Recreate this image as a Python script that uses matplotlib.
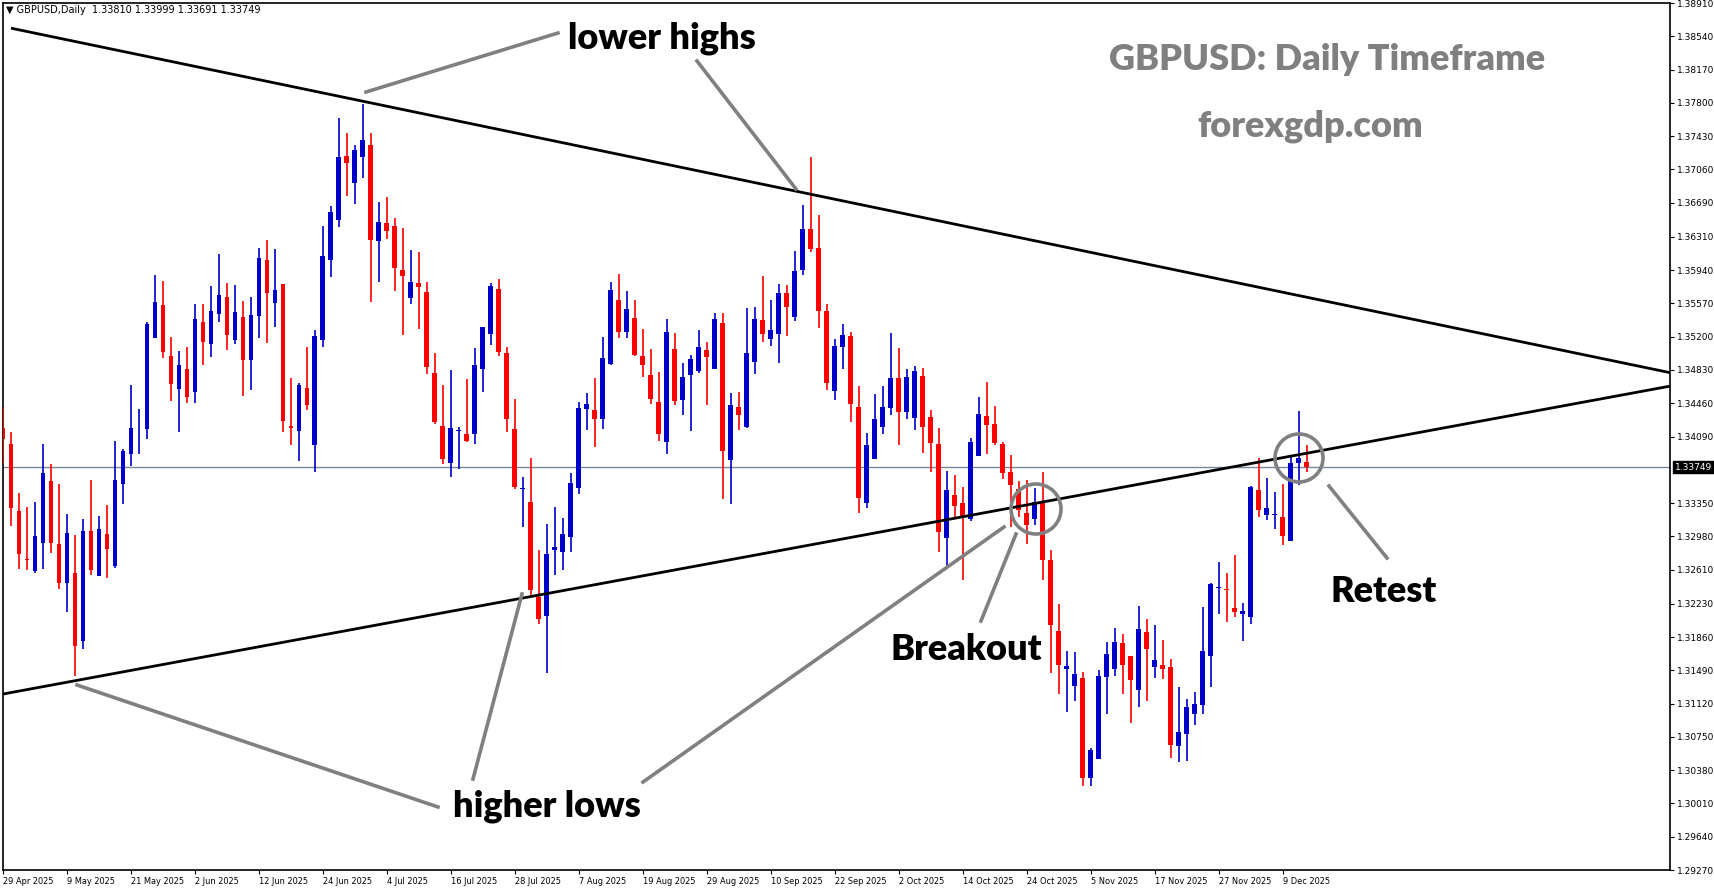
import numpy as np
import matplotlib; matplotlib.use("Agg")
import matplotlib.pyplot as plt
from matplotlib.patches import Ellipse

# daily GBPUSD candles, 29 Apr 2025 .. 12 Dec 2025
OPEN = [1.3419,1.3401,1.3326,1.3273,1.3259,1.3291,1.3360,1.3289,1.3246,1.3257,
        1.3182,1.3304,1.3254,1.3301,1.3265,1.3356,1.3389,1.3417,1.3417,1.3518,
        1.3555,1.3499,1.3462,1.3484,1.3459,1.3536,1.3512,1.3545,1.3564,1.3516,
        1.3542,1.3494,1.3543,1.3605,1.3557,1.3579,1.3421,1.3415,1.3463,1.3400,
        1.3516,1.3605,1.3650,1.3721,1.3691,1.3720,1.3733,1.3626,1.3646,1.3643,
        1.3594,1.3563,1.3580,1.3570,1.3480,1.3421,1.3380,1.3415,1.3412,1.3412,
        1.3484,1.3523,1.3573,1.3502,1.3417,1.3351,1.3336,1.3230,1.3209,1.3283,
        1.3281,1.3297,1.3352,1.3440,1.3438,1.3429,1.3490,1.3561,1.3525,1.3541,
        1.3498,1.3477,1.3447,1.3403,1.3506,1.3450,1.3477,1.3482,1.3505,1.3484,
        1.3535,1.3383,1.3442,1.3420,1.3492,1.3539,1.3517,1.3523,1.3568,1.3542,
        1.3594,1.3640,1.3619,1.3548,1.3460,1.3509,1.3521,1.3442,1.3335,1.3384,
        1.3420,1.3441,1.3474,1.3436,1.3430,1.3476,1.3431,1.3401,1.3296,1.3344,
        1.3335,1.3317,1.3387,1.3432,1.3423,1.3401,1.3369,1.3351,1.3324,1.3317,
        1.3335,1.3272,1.3193,1.3150,1.3132,1.3140,1.3029,1.3050,1.3142,1.3150,
        1.3179,1.3165,1.3127,1.3192,1.3153,1.3155,1.3153,1.3065,1.3078,1.3101,
        1.3111,1.3165,1.3241,1.3239,1.3218,1.3212,1.3208,1.3350,1.3322,1.3322,
        1.3319,1.3293,1.3380,1.33810]
HIGH = [1.3442,1.3414,1.3346,1.3331,1.3336,1.3401,1.3378,1.3356,1.3323,1.3300,
        1.3317,1.3361,1.3321,1.3333,1.3404,1.3395,1.3466,1.3440,1.3536,1.3589,
        1.3582,1.3520,1.3504,1.3508,1.3556,1.3556,1.3576,1.3612,1.3580,1.3577,
        1.3560,1.3564,1.3619,1.3627,1.3618,1.3579,1.3474,1.3468,1.3508,1.3527,
        1.3643,1.3665,1.3763,1.3746,1.3733,1.3779,1.3746,1.3670,1.3675,1.3652,
        1.3641,1.3616,1.3614,1.3581,1.3502,1.3466,1.3483,1.3420,1.3473,1.3507,
        1.3531,1.3580,1.3584,1.3509,1.3451,1.3364,1.3385,1.3283,1.3312,1.3331,
        1.3318,1.3368,1.3447,1.3457,1.3474,1.3520,1.3581,1.3590,1.3571,1.3561,
        1.3528,1.3506,1.3481,1.3540,1.3524,1.3491,1.3500,1.3527,1.3514,1.3546,
        1.3546,1.3457,1.3458,1.3552,1.3553,1.3587,1.3561,1.3579,1.3577,1.3615,
        1.3666,1.3720,1.3655,1.3556,1.3517,1.3534,1.3525,1.3465,1.3413,1.3456,
        1.3465,1.3524,1.3507,1.3484,1.3487,1.3485,1.3438,1.3418,1.3371,1.3366,
        1.3353,1.3407,1.3453,1.3470,1.3443,1.3403,1.3388,1.3360,1.3361,1.3352,
        1.3370,1.3283,1.3223,1.3171,1.3169,1.3147,1.3063,1.3149,1.3181,1.3196,
        1.3189,1.3165,1.3220,1.3206,1.3199,1.3183,1.3162,1.3131,1.3117,1.3125,
        1.3219,1.3246,1.3270,1.3257,1.3277,1.3224,1.3354,1.3385,1.3363,1.3347,
        1.3356,1.3388,1.3437,1.33999]
LOW = [1.3379,1.3309,1.3262,1.3261,1.3257,1.3262,1.3280,1.3239,1.3214,1.3143,
       1.3173,1.3255,1.3254,1.3252,1.3263,1.3334,1.3376,1.3389,1.3406,1.3518,
       1.3496,1.3448,1.3414,1.3446,1.3446,1.3489,1.3497,1.3536,1.3505,1.3512,
       1.3454,1.3461,1.3519,1.3513,1.3531,1.3414,1.3400,1.3382,1.3438,1.3370,
       1.3509,1.3586,1.3642,1.3676,1.3668,1.3696,1.3559,1.3581,1.3629,1.3571,
       1.3522,1.3556,1.3529,1.3478,1.3423,1.3378,1.3364,1.3373,1.3403,1.3401,
       1.3459,1.3511,1.3499,1.3414,1.3351,1.3308,1.3230,1.3200,1.3146,1.3255,
       1.3261,1.3281,1.3345,1.3416,1.3397,1.3417,1.3489,1.3518,1.3519,1.3499,
       1.3475,1.3445,1.3404,1.3390,1.3444,1.3433,1.3415,1.3480,1.3444,1.3484,
       1.3340,1.3334,1.3416,1.3419,1.3479,1.3514,1.3510,1.3491,1.3521,1.3537,
       1.3589,1.3614,1.3530,1.3461,1.3450,1.3484,1.3425,1.3324,1.3330,1.3384,
       1.3412,1.3433,1.3400,1.3428,1.3416,1.3391,1.3370,1.3281,1.3264,1.3319,
       1.3250,1.3315,1.3387,1.3390,1.3399,1.3362,1.3308,1.3319,1.3290,1.3311,
       1.3250,1.3146,1.3123,1.3103,1.3115,1.3020,1.3020,1.3050,1.3101,1.3143,
       1.3123,1.3091,1.3108,1.3115,1.3141,1.3139,1.3052,1.3047,1.3048,1.3088,
       1.3101,1.3130,1.3212,1.3203,1.3208,1.3182,1.3200,1.3320,1.3316,1.3306,
       1.3288,1.3293,1.3355,1.33691]
CLOSE = [1.3406,1.3330,1.3278,1.3272,1.3298,1.3368,1.3291,1.3246,1.3302,1.3176,
         1.3304,1.3261,1.3306,1.3284,1.3361,1.3393,1.3418,1.3417,1.3534,1.3559,
         1.3503,1.3467,1.3488,1.3453,1.3540,1.3514,1.3549,1.3566,1.3522,1.3547,
         1.3494,1.3544,1.3608,1.3568,1.3572,1.3426,1.3418,1.3466,1.3444,1.3521,
         1.3610,1.3659,1.3720,1.3713,1.3727,1.3739,1.3628,1.3648,1.3637,1.3596,
         1.3587,1.3581,1.3575,1.3486,1.3425,1.3384,1.3418,1.3416,1.3404,1.3488,
         1.3531,1.3576,1.3503,1.3429,1.3353,1.3351,1.3238,1.3206,1.3278,1.3286,
         1.3301,1.3357,1.3441,1.3445,1.3429,1.3496,1.3572,1.3525,1.3551,1.3500,
         1.3489,1.3451,1.3412,1.3525,1.3449,1.3475,1.3495,1.3508,1.3497,1.3540,
         1.3393,1.3444,1.3433,1.3502,1.3540,1.3523,1.3527,1.3568,1.3553,1.3593,
         1.3640,1.3617,1.3548,1.3468,1.3510,1.3522,1.3445,1.3341,1.3399,1.3429,
         1.3442,1.3474,1.3436,1.3475,1.3482,1.3420,1.3402,1.3303,1.3349,1.3332,
         1.3319,1.3403,1.3434,1.3422,1.3402,1.3368,1.3355,1.3327,1.3311,1.3336,
         1.3272,1.3199,1.3155,1.3154,1.3145,1.3029,1.3060,1.3143,1.3167,1.3180,
         1.3155,1.3138,1.3195,1.3173,1.3160,1.3150,1.3066,1.3080,1.3108,1.3112,
         1.3170,1.3245,1.3242,1.3238,1.3214,1.3215,1.3353,1.3327,1.3330,1.3322,
         1.3298,1.3379,1.3385,1.33749]

DATE_LABELS = ["29 Apr 2025","9 May 2025","21 May 2025","2 Jun 2025","12 Jun 2025",
               "24 Jun 2025","4 Jul 2025","16 Jul 2025","28 Jul 2025","7 Aug 2025",
               "19 Aug 2025","29 Aug 2025","10 Sep 2025","22 Sep 2025","2 Oct 2025",
               "14 Oct 2025","24 Oct 2025","5 Nov 2025","17 Nov 2025","27 Nov 2025",
               "9 Dec 2025"]
PRICE_TICKS = [1.38910,1.38540,1.38170,1.37800,1.37430,1.37060,1.36690,1.36310,1.35940,
               1.35570,1.35200,1.34830,1.34460,1.34090,1.33350,1.32980,1.32610,1.32230,
               1.31860,1.31490,1.31120,1.30750,1.30380,1.30010,1.29640,1.29270]
LAST = 1.33749
UPPER_LINE = [(1.0, 1.3863), (208.4, 1.3480)]   # lower highs
LOWER_LINE = [(-0.4, 1.3122), (208.4, 1.3465)]  # higher lows

BLUE, RED = "#0000CC", "#FF0000"
W, H = 1714, 888

fig = plt.figure(figsize=(W/100, H/100), dpi=100)
ax = fig.add_axes([2.7/W, 1-870/H, (1670-2.7)/W, 867/H])
ax.set_xlim(-0.04, 208.4); ax.set_ylim(1.29282, 1.38845)

o, h, l, c = map(np.array, (OPEN, HIGH, LOW, CLOSE))
x = np.arange(len(o)); up = c >= o
col = np.where(up, BLUE, RED)
ax.vlines(x, l, h, colors=col, lw=1.2, zorder=3)
bot = np.minimum(o, c); ht = np.maximum(np.abs(c-o), 0.00008)
ax.bar(x, ht, bottom=bot, width=0.62, color=col, lw=0, zorder=4)

ax.axhline(LAST, color="#778899", lw=1, zorder=2)
for (x0, y0), (x1, y1) in (UPPER_LINE, LOWER_LINE):
    ax.plot([x0, x1], [y0, y1], color="black", lw=2, zorder=5, solid_capstyle="butt")

# ticks / frame, MT4 style
ax.yaxis.tick_right()
ax.set_yticks(PRICE_TICKS)
ax.set_yticklabels([f"{v:.5f}" for v in PRICE_TICKS], fontsize=6.5, family="DejaVu Sans")
ax.set_xticks(np.arange(len(DATE_LABELS))*8)
ax.set_xticklabels(DATE_LABELS, fontsize=6.6, ha="left", family="DejaVu Sans", fontstretch="condensed")
for t in ax.get_xticklabels():
    t.set_transform(t.get_transform() + matplotlib.transforms.Affine2D().scale(1.0, 1.0))
ax.tick_params(length=3, pad=2)
for s in ax.spines.values(): s.set_linewidth(1.2)
ax.text(1.003, LAST, f"{LAST:.5f}", transform=ax.get_yaxis_transform(), va="center",
        ha="left", fontsize=6.5, color="white", bbox=dict(fc="black", ec="black", pad=1.2))

def px(xp, yp):  # figure pixel -> figure fraction, only for annotation layout
    return (xp/W, 1-yp/H)

ft = dict(family="Lato", fontweight="heavy", transform=fig.transFigure, ha="center", va="center")
fig.text(*px(6, 10), "\u25bc GBPUSD,Daily  1.33810 1.33999 1.33691 1.33749",
         fontsize=7, transform=fig.transFigure, ha="left", va="center", family="DejaVu Sans")
fig.text(*px(662, 38), "lower highs", fontsize=26, **ft)
fig.text(*px(547, 806), "higher lows", fontsize=26, **ft)
fig.text(*px(966, 649), "Breakout", fontsize=26, **ft)
fig.text(*px(1384, 591), "Retest", fontsize=26, **ft)
fig.text(*px(1327, 60), "GBPUSD: Daily Timeframe", fontsize=26, color="#808080", **ft)
fig.text(*px(1310, 126), "forexgdp.com", fontsize=26, color="#808080", **ft)

for a, b in [((366, 92), (558, 33)), ((697, 61), (796, 189)), ((77, 685), (438, 807)),
             ((522, 594), (473, 779)), ((1004, 527), (643, 782)), ((1016, 534), (981, 621)),
             ((1329, 486), (1387, 558))]:
    fig.add_artist(plt.Line2D([a[0]/W, b[0]/W], [1-a[1]/H, 1-b[1]/H], color="#808080", lw=2.6))
for cx, cy, r in [(1036, 509, 25), (1299, 458, 24)]:
    fig.add_artist(Ellipse(px(cx, cy), 2*r/W, 2*r/H, fill=False, ec="#808080", lw=2.6))

fig.savefig("out.png", dpi=100)
